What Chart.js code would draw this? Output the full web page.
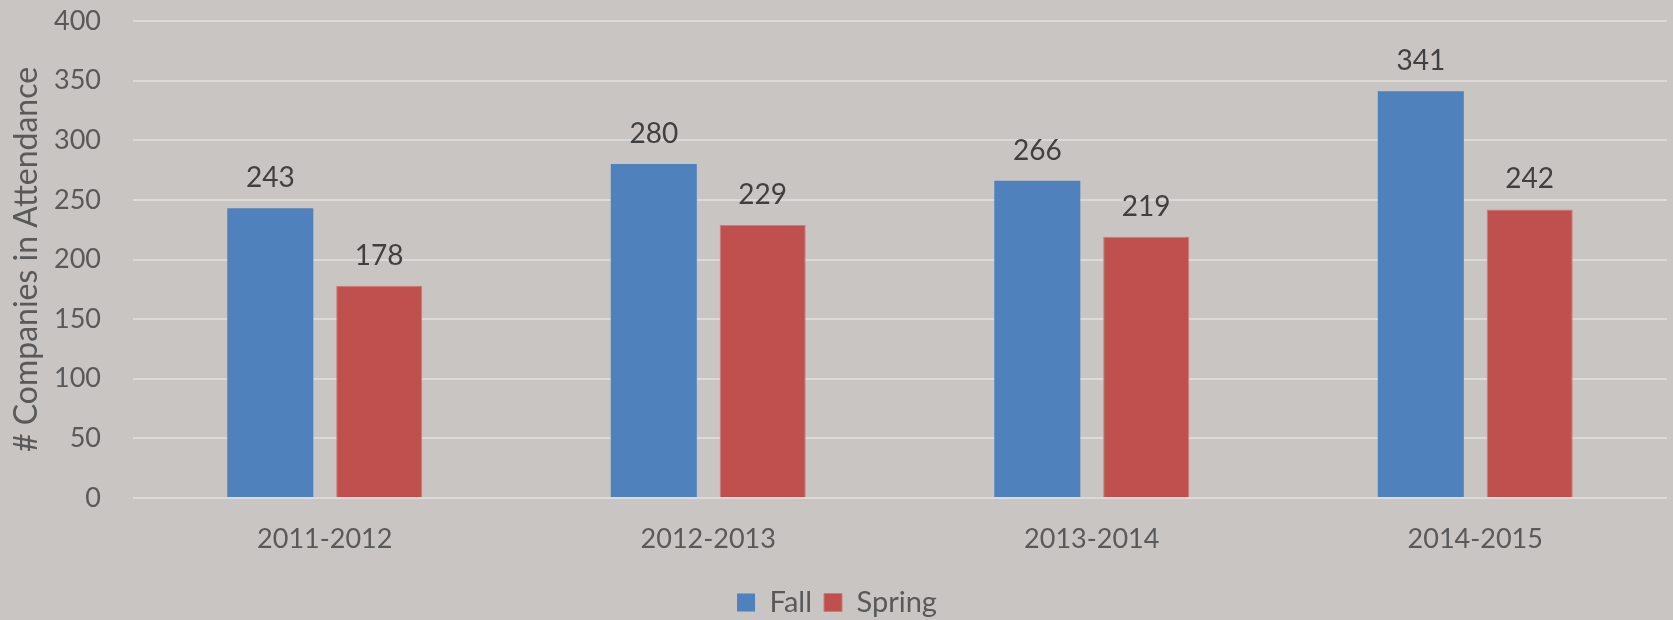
<!DOCTYPE html>
<html>
<head>
<meta charset="utf-8">
<script src="https://cdn.jsdelivr.net/npm/chart.js@4"></script>
<style>
  html, body { margin: 0; padding: 0; background: #c9c5c2; }
  canvas { display: block; }
</style>
</head>
<body>
<canvas id="grafica" width="1673" height="620"></canvas>
<script>
const years = ["2011-2012", "2012-2013", "2013-2014", "2014-2015"];
const fall = [243, 280, 266, 341];
const spring = [178, 229, 219, 242];
const yTicks = [0, 50, 100, 150, 200, 250, 300, 350, 400];

// etiquetas de valor encima de cada barra
const valueLabels = {
    id: "valueLabels",
    afterDatasetsDraw(chart) {
        const ctx = chart.ctx;
        ctx.save();
        ctx.font = "28px Lato";
        ctx.fillStyle = "#404040";
        ctx.textAlign = "center";
        ctx.textBaseline = "middle";
        chart.data.datasets.forEach((ds, i) => {
            chart.getDatasetMeta(i).data.forEach((bar, j) => {
                ctx.fillText(ds.data[j], bar.x, bar.y - 30);
            });
        });
        ctx.restore();
    }
};

let miCanvas = document.getElementById("grafica").getContext("2d");

var chart = new Chart(miCanvas, {
    type: "bar",
    data: {
        labels: years,
        datasets: [{
            label: "Fall",
            backgroundColor: "#4f81bd",
            data: fall
        }, {
            label: "Spring",
            backgroundColor: "#c0504d",
            borderColor: "#d07a77",
            borderWidth: 1,
            data: spring
        }]
    },
    options: {
        responsive: false,
        animation: false,
        devicePixelRatio: 1,
        categoryPercentage: 0.568,
        barPercentage: 0.79,
        layout: { padding: { top: 21, right: 6, left: 7, bottom: -7 } },
        plugins: {
            legend: {
                position: "bottom",
                labels: {
                    font: { family: "Lato", size: 29 },
                    color: "#595959",
                    boxWidth: 18,
                    boxHeight: 18,
                    padding: 12
                }
            },
            tooltip: { enabled: false }
        },
        scales: {
            x: {
                grid: { display: false },
                border: { display: false },
                ticks: {
                    font: { family: "Lato", size: 27 },
                    color: "#595959",
                    padding: 17
                },
                afterFit(scale) { scale.height = 78; scale.paddingLeft = 0; scale.paddingRight = 0; }
            },
            y: {
                min: 0,
                max: 400,
                afterBuildTicks(scale) { scale.ticks = yTicks.map(v => ({ value: v })); },
                grid: { color: "#dcdad8", lineWidth: 2, drawTicks: false },
                border: { display: false },
                ticks: {
                    font: { family: "Lato", size: 27 },
                    color: "#595959",
                    padding: 32
                },
                title: {
                    display: true,
                    text: "# Companies in Attendance",
                    font: { family: "Lato", size: 32 },
                    color: "#595959",
                    padding: 0
                },
                afterFit(scale) { scale.width = 126; scale.paddingTop = 0; scale.paddingBottom = 0; }
            }
        }
    },
    plugins: [valueLabels]
});
</script>
</body>
</html>
